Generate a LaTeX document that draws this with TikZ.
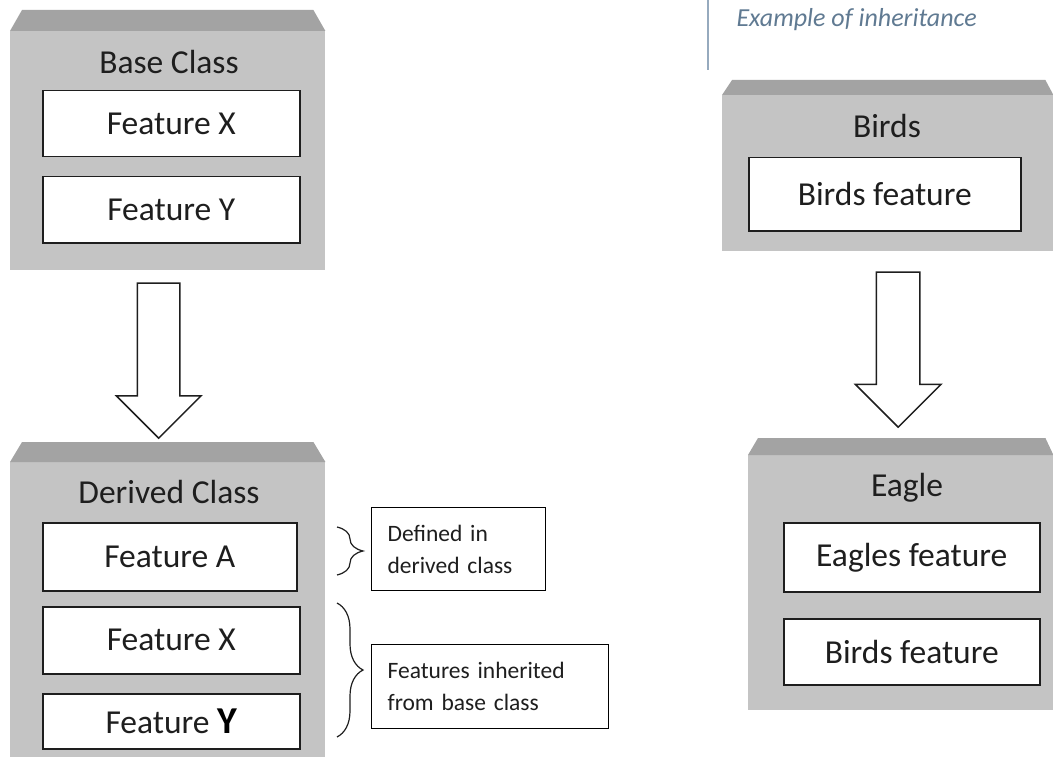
\documentclass[tikz,border=0pt]{standalone}
\usepackage{fontspec}
\setmainfont{Carlito}
\usetikzlibrary{shapes.arrows,decorations.pathreplacing,calc}
\definecolor{boxgrey}{RGB}{196,196,196}
\definecolor{bevelgrey}{RGB}{163,163,163}
\definecolor{inkgrey}{RGB}{30,30,30}
\definecolor{captionblue}{RGB}{96,122,146}
\definecolor{barblue}{RGB}{150,170,190}

\begin{document}
\begin{tikzpicture}[x=1pt, y=-1pt,
    every node/.style={text=inkgrey, font=\fontsize{33.5}{36}\selectfont},
    classbox/.style={fill=boxgrey, anchor=north west, inner sep=0pt},
    featbox/.style={draw=inkgrey, line width=1.5pt, fill=white, minimum width=257pt, minimum height=66pt, anchor=north west, inner sep=0pt},
    notebox/.style={draw=black, line width=1.2pt, fill=white, anchor=north west, align=left, inner xsep=16pt, font=\fontsize{23.5}{32}\selectfont},
    bigarrow/.style={single arrow, draw=inkgrey, line width=1.5pt, fill=white, rotate=-90, inner xsep=0pt, inner ysep=20.5pt, single arrow head extend=21pt, minimum height=155pt, anchor=tail},
    curly/.style={decorate, decoration={brace, amplitude=26pt}, line width=1.2pt, draw=inkgrey}]
    \useasboundingbox (0,0) rectangle (1053,757);

    % Base class
    \node[classbox, minimum width=315pt, minimum height=239pt] (base) at (10,31) {};
    \fill[bevelgrey] (base.north west) -- ++(12,-21) -- ($(base.north east)+(-12,-21)$) -- (base.north east) -- cycle;
    \node (basetitle) at (169,62) {Base Class};
    \node[featbox] (bx) at (42,90) {Feature X};
    \node[featbox] (by) at (42,176) {Feature Y};

    \node[bigarrow] (inh1) at ($(base.south)+(-9,12)$) {};

    % Derived class
    \node[classbox, minimum width=315pt, minimum height=295pt] (derived) at (10,462) {};
    \fill[bevelgrey] (derived.north west) -- ++(12,-20) -- ($(derived.north east)+(-12,-20)$) -- (derived.north east) -- cycle;
    \node (derivedtitle) at (169,492) {Derived Class};
    \node[featbox, minimum width=254pt, minimum height=68pt] (da) at (42,522) {Feature A};
    \node[featbox, minimum height=67pt] (dx) at (42,606) {Feature X};
    \node[featbox, minimum height=55pt] (dy) at (42,693) {Feature {\fontsize{38}{38}\selectfont\bfseries\color{black}Y}};

    % Notes
    \draw[curly] (337,527) -- (337,575);
    \draw[curly] (337,603) -- (337,737);
    \node[notebox, minimum width=174pt, minimum height=83pt, text width=142pt] (defnote) at (371,507) {Defined in\\derived class};
    \node[notebox, minimum width=237pt, minimum height=84pt, text width=205pt] (inhnote) at (371,644) {Features inherited\\from base class};

    % Example
    \draw[barblue, line width=2pt] (708,0) -- (708,70);
    \node[anchor=base west, text=captionblue, font=\fontsize{26}{28}\selectfont\itshape] (caption) at (733,27) {Example of inheritance};

    \node[classbox, minimum width=331pt, minimum height=156pt] (birds) at (722,95) {};
    \fill[bevelgrey] (birds.north west) -- ++(10,-15) -- ($(birds.north east)+(-8,-15)$) -- (birds.north east) -- cycle;
    \node (birdstitle) at (887,126) {Birds};
    \node[featbox, minimum width=272pt, minimum height=73pt] (bf) at (748,157) {Birds feature};

    \node[bigarrow, inner ysep=21pt] (inh2) at ($(birds.south)+(10.5,20)$) {};

    \node[classbox, minimum width=305pt, minimum height=255pt] (eagle) at (748,455) {};
    \fill[bevelgrey] (eagle.north west) -- ++(10,-17) -- ($(eagle.north east)+(-8,-17)$) -- (eagle.north east) -- cycle;
    \node (eagletitle) at (907,488) {Eagle};
    \node[featbox, minimum width=256pt, minimum height=69pt] (ef) at (783,522) {Eagles feature};
    \node[featbox, minimum width=256pt] (ebf) at (783,618) {Birds feature};
\end{tikzpicture}
\end{document}
